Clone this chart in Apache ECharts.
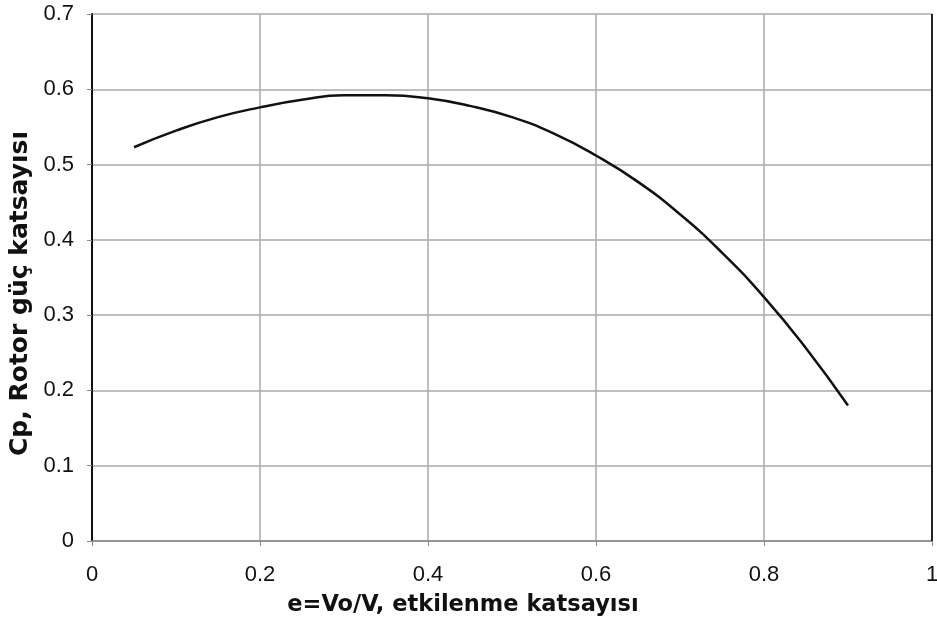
<!DOCTYPE html>
<html>
<head>
<meta charset="utf-8">
<script src="https://cdn.jsdelivr.net/npm/echarts@6/dist/echarts.min.js"></script>
<style>
  html, body { margin: 0; padding: 0; background: #fff; }
  #chart { width: 937px; height: 625px; }
</style>
</head>
<body>
<div id="chart"></div>
<script>
// Impact factor e = Vo/V
const eValues = [0.05, 0.10, 0.15, 0.20, 0.25, 0.30, 0.35, 0.40, 0.45, 0.50, 0.55, 0.60, 0.65, 0.70, 0.75, 0.80, 0.85, 0.90];
// Rotor power coefficient Cp
const cpValues = [0.523, 0.545, 0.563, 0.576, 0.586, 0.592, 0.592, 0.588, 0.578, 0.563, 0.541, 0.512, 0.477, 0.434, 0.383, 0.324, 0.256, 0.180];

const xTitle = 'e=Vo/V, etkilenme katsayısı';
const yTitle = 'Cp, Rotor güç katsayısı';

const seriesData = eValues.map((e, i) => [e, cpValues[i]]);

const labelFont = "'Liberation Sans', Arial, sans-serif";
const titleFont = "'DejaVu Sans', Verdana, sans-serif";

const chart = echarts.init(document.getElementById('chart'));
chart.setOption({
  animation: false,
  backgroundColor: '#ffffff',
  grid: { left: 92, right: 5, top: 14, bottom: 84, show: false, containLabel: false, outerBoundsMode: 'none' },
  xAxis: {
    type: 'value', min: 0, max: 1, interval: 0.2,
    name: xTitle, nameLocation: 'middle', nameGap: 53,
    nameTextStyle: { fontFamily: titleFont, fontSize: 22.5, fontWeight: 'bold', color: '#111',
      padding: [0, 98, 0, 0] },
    axisLine: { show: true, onZero: false, lineStyle: { color: '#888', width: 1.5 } },
    axisTick: { show: true, inside: false, length: 5, lineStyle: { color: '#888' } },
    axisLabel: { fontFamily: labelFont, fontSize: 22, color: '#111', margin: 23,
      formatter: v => (v === 0 || v === 1) ? String(v) : v.toFixed(1) },
    splitLine: { show: true, lineStyle: { color: '#aaa', width: 1.5 } }
  },
  yAxis: {
    type: 'value', min: 0, max: 0.7, interval: 0.1,
    name: yTitle, nameLocation: 'middle', nameGap: 58, nameRotate: 90,
    nameTextStyle: { fontFamily: titleFont, fontSize: 25, fontWeight: 'bold', color: '#111',
      padding: [0, 32, 0, 0] },
    axisLine: { show: true, lineStyle: { color: '#111', width: 2 } },
    axisTick: { show: true, inside: false, length: 5, lineStyle: { color: '#888' } },
    axisLabel: { fontFamily: labelFont, fontSize: 22, color: '#111', margin: 18,
      formatter: v => v === 0 ? '0' : v.toFixed(1) },
    splitLine: { show: true, lineStyle: { color: '#aaa', width: 1.5 } }
  },
  series: [
    {
      type: 'line',
      data: seriesData,
      smooth: true,
      showSymbol: false,
      lineStyle: { color: '#111', width: 2.5 }
    },
    {
      // right frame edge
      type: 'line',
      data: [],
      markLine: {
        silent: true, symbol: 'none', label: { show: false },
        lineStyle: { color: '#222', width: 2, type: 'solid' },
        data: [{ xAxis: 1 }]
      }
    }
  ]
});
</script>
</body>
</html>
